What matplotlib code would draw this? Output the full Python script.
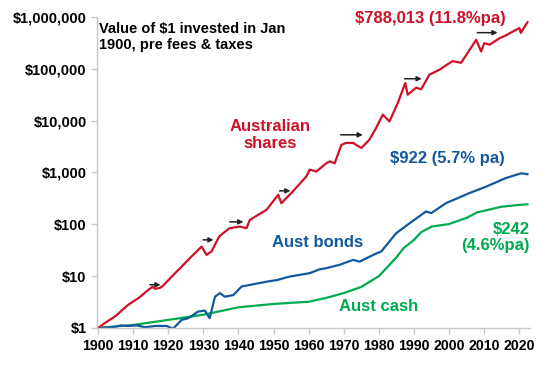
import matplotlib
matplotlib.use("Agg")
import matplotlib.pyplot as plt
from matplotlib import font_manager

# --- Data (value of $1 invested in Jan 1900) ---
share_years = [1900, 1902, 1905, 1908.6, 1911.5, 1914.3, 1915.5, 1916.2, 1917.6, 1918.5,
               1921, 1923.8, 1926.6, 1929.5, 1930.9, 1932.3, 1934.5, 1935.6, 1937.5, 1940.4,
               1942.3, 1943.2, 1948, 1951.3, 1952.2, 1955.5, 1959.3, 1960.3, 1962.2, 1965,
               1966, 1967.4, 1969.3, 1970.7, 1972.6, 1975, 1977.3, 1979.2, 1981.1, 1983,
               1985.4, 1987.5, 1988.2, 1990.6, 1992, 1994.4, 1997.2, 1999.9, 2001, 2003.4,
               2007.7, 2009.1, 2010, 2011.5, 2014.3, 2016.2, 2020, 2020.4, 2022.3]
share_vals = [1, 1.25, 1.7, 2.8, 3.75, 5.4, 6.2, 5.7, 5.9, 6.5,
              9.8, 15.2, 23.8, 37, 25.6, 29.8, 58, 67, 84, 90,
              84, 121, 190, 370, 255, 430, 830, 1130, 1040, 1500,
              1630, 1500, 3400, 3700, 3700, 2950, 4300, 7200, 13000, 9600,
              22000, 53000, 31500, 43000, 40000, 77000, 95000, 126000, 140000, 130000,
              360000, 215000, 310000, 290000, 385000, 440000, 610000, 490000, 788013]

bond_years = [1900, 1902, 1904.8, 1906.5, 1908.6, 1911, 1913.4, 1916.2, 1919.5, 1921.4,
              1923.8, 1925.7, 1928.5, 1930.4, 1931.8, 1933.3, 1934.7, 1936.1, 1938.5, 1940.9,
              1948, 1951, 1954.6, 1960.3, 1963.1, 1965, 1968.8, 1972.6, 1974.5, 1978.3,
              1980.7, 1984.9, 1988.7, 1993.4, 1994.9, 1999.1, 2005.8, 2010.5, 2016.2, 2020.5,
              2022.3]
bond_vals = [1, 1.02, 1.05, 1.12, 1.09, 1.12, 1.03, 1.09, 1.09, 0.97,
             1.43, 1.54, 2.07, 2.16, 1.54, 4.0, 4.7, 4.0, 4.3, 6.3,
             7.8, 8.4, 9.8, 11.4, 13.5, 14.2, 16.5, 20.5, 19, 25.5,
             30, 67, 104, 176, 164, 255, 400, 530, 780, 960,
             922]

cash_years = [1900, 1910, 1920, 1930, 1940, 1950, 1960, 1965, 1970, 1975, 1980, 1985,
              1987, 1990, 1992, 1995, 2000, 2005, 2008, 2010, 2015, 2020, 2022.3]
cash_vals = [1, 1.14, 1.43, 1.8, 2.5, 2.9, 3.2, 3.8, 4.7, 6.2, 10, 23,
             34.5, 50, 70, 90, 101, 133, 170, 182, 218, 236, 242]

# recovery arrows on the shares line: (start year, end year, level)
arrows = [(1914.8, 1917.8, 6.8), (1929.9, 1932.9, 50), (1937.5, 1941.4, 111),
          (1951.7, 1954.8, 440), (1969.1, 1975.4, 5300), (1987.3, 1992.2, 64000),
          (2008.0, 2013.8, 495000)]

yticks = [1, 10, 100, 1000, 10000, 100000, 1000000]
ytick_labels = ["$1", "$10", "$100", "$1,000", "$10,000", "$100,000", "$1,000,000"]
xticks = list(range(1900, 2030, 10))

RED = "#CE1126"
BLUE = "#12589F"
GREEN = "#00AA4F"

names = {f.name for f in font_manager.fontManager.ttflist}
base = "Liberation Sans" if "Liberation Sans" in names else "DejaVu Sans"
plt.rcParams["font.family"] = [base, "DejaVu Sans"]
plt.rcParams["font.weight"] = "bold"

fig = plt.figure(figsize=(5.48, 3.66), dpi=100)
ax = fig.add_axes([0.177, 0.104, 0.79, 0.85])

ax.plot(cash_years, cash_vals, color=GREEN, lw=1.6)
ax.plot(bond_years, bond_vals, color=BLUE, lw=1.6)
ax.plot(share_years, share_vals, color=RED, lw=1.6)

for x0, x1, lvl in arrows:
    ax.annotate("", xy=(x1, lvl), xytext=(x0, lvl),
                arrowprops=dict(arrowstyle="-|>", color="#222222", lw=1.1,
                                mutation_scale=7, shrinkA=0, shrinkB=0))

ax.set_yscale("log")
ax.set_ylim(1, 1e6)
ax.set_xlim(1899.7, 2023)
ax.set_yticks(yticks)
ax.set_yticklabels(ytick_labels)
ax.minorticks_off()
ax.set_xticks(xticks)
ax.set_xticklabels([str(x) for x in xticks])
for lab in ax.get_xticklabels():
    lab.set_fontsize(10.2)
    lab.set_fontweight("bold")
for lab in ax.get_yticklabels():
    lab.set_fontsize(10.5)
    lab.set_fontweight("bold")

for side in ["top", "right"]:
    ax.spines[side].set_visible(False)
for side in ["left", "bottom"]:
    ax.spines[side].set_color("#C8C8C8")
    ax.spines[side].set_linewidth(1)
ax.tick_params(axis="both", colors="#C8C8C8", length=4, width=1, labelcolor="black")
ax.tick_params(axis="x", pad=4)

ax.text(0.005, 0.985, "Value of $1 invested in Jan\n1900, pre fees & taxes",
        transform=ax.transAxes, ha="left", va="top", fontsize=10.5,
        fontweight="bold", color="black", linespacing=1.2)
ax.text(0.77, 0.995, "$788,013 (11.8%pa)", transform=ax.transAxes, ha="center",
        va="center", fontsize=12, fontweight="bold", color=RED)
ax.text(0.40, 0.62, "Australian\nshares", transform=ax.transAxes, ha="center",
        va="center", fontsize=12, fontweight="bold", color=RED, linespacing=1.1)
ax.text(0.81, 0.545, "$922 (5.7% pa)", transform=ax.transAxes, ha="center",
        va="center", fontsize=12, fontweight="bold", color=BLUE)
ax.text(0.51, 0.275, "Aust bonds", transform=ax.transAxes, ha="center",
        va="center", fontsize=12, fontweight="bold", color=BLUE)
ax.text(0.65, 0.07, "Aust cash", transform=ax.transAxes, ha="center",
        va="center", fontsize=12, fontweight="bold", color=GREEN)
ax.text(1.0, 0.29, "$242\n(4.6%pa)", transform=ax.transAxes, ha="right",
        va="center", fontsize=12, fontweight="bold", color=GREEN, linespacing=1.1)

fig.savefig("out.png", dpi=100)
